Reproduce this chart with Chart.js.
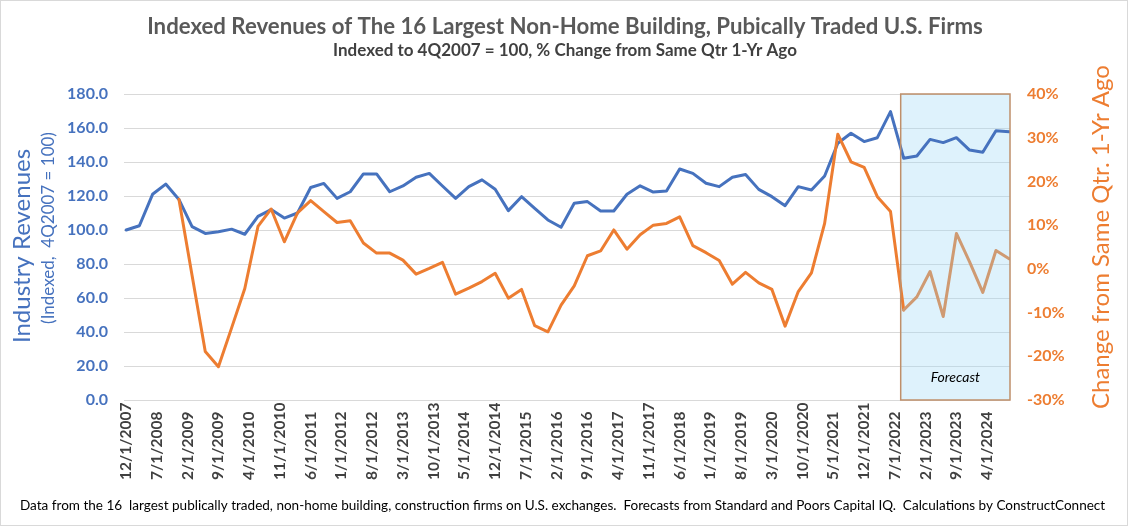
<!DOCTYPE html>
<html><head><meta charset="utf-8">
<script src="https://cdn.jsdelivr.net/npm/chart.js@4.4.1/dist/chart.umd.min.js"></script>
<style>html,body{margin:0;padding:0;background:#fff;overflow:hidden;} canvas{display:block;}</style>
</head><body>
<canvas id="c" width="1128" height="526"></canvas>
<script>
// ---- DATA ----
const quarters = [
 '12/1/2007',
 '3/1/2008','6/1/2008','9/1/2008','12/1/2008',
 '3/1/2009','6/1/2009','9/1/2009','12/1/2009',
 '3/1/2010','6/1/2010','9/1/2010','12/1/2010',
 '3/1/2011','6/1/2011','9/1/2011','12/1/2011',
 '3/1/2012','6/1/2012','9/1/2012','12/1/2012',
 '3/1/2013','6/1/2013','9/1/2013','12/1/2013',
 '3/1/2014','6/1/2014','9/1/2014','12/1/2014',
 '3/1/2015','6/1/2015','9/1/2015','12/1/2015',
 '3/1/2016','6/1/2016','9/1/2016','12/1/2016',
 '3/1/2017','6/1/2017','9/1/2017','12/1/2017',
 '3/1/2018','6/1/2018','9/1/2018','12/1/2018',
 '3/1/2019','6/1/2019','9/1/2019','12/1/2019',
 '3/1/2020','6/1/2020','9/1/2020','12/1/2020',
 '3/1/2021','6/1/2021','9/1/2021','12/1/2021',
 '3/1/2022','6/1/2022','9/1/2022','12/1/2022',
 '3/1/2023','6/1/2023','9/1/2023','12/1/2023',
 '3/1/2024','6/1/2024','9/1/2024'
];
const revenueIndex = [
 100, 102.5, 121, 127, 118, 102, 98, 99, 100.5, 97.5, 108, 112, 107, 110,
 125, 127.4, 118.6, 122.5, 133, 133, 122.5, 125.9, 131, 133.3, 125.9, 118.6, 125.5, 129.5,
 124, 111.4, 119.6, 112.7, 105.9, 101.6, 115.7, 116.7, 111.2, 111.2, 121, 126, 122.3,
 122.9, 135.9, 133.3, 127.5, 125.5, 131, 132.7, 123.9, 119.6, 114.3, 125.5, 123.5, 131.8,
 151, 156.9, 152, 154.3, 169.6, 142.2, 143.5, 153.3, 151.4, 154.3, 147, 145.7, 158.4, 157.8
];
const pctChange = [
 null, null, null, null,
 15.9, -1.5, -18.9, -22.4, -13.5, -4.5, 9.7, 13.7, 6.2, 12.8,
 15.6, 13.1, 10.6, 11, 5.9, 3.6, 3.6, 2, -1.2, 0.1, 1.5, -5.8, -4.4, -2.9,
 -1, -6.7, -4.7, -13, -14.4, -8.3, -3.9, 3, 4.1, 8.9, 4.5, 7.8, 10,
 10.4, 11.9, 5.3, 3.7, 1.9, -3.5, -0.8, -3.2, -4.7, -13.1, -5.2, -0.9, 10.4,
 30.8, 24.5, 23.2, 16.5, 13.1, -9.4, -6.4, -0.6, -10.9, 8.1, 1.6, -5.4, 4.2, 2.3
];
const xTickLabels = [
 '12/1/2007','7/1/2008','2/1/2009','9/1/2009','4/1/2010','11/1/2010','6/1/2011','1/1/2012',
 '8/1/2012','3/1/2013','10/1/2013','5/1/2014','12/1/2014','7/1/2015','2/1/2016','9/1/2016',
 '4/1/2017','11/1/2017','6/1/2018','1/1/2019','8/1/2019','3/1/2020','10/1/2020','5/1/2021',
 '12/1/2021','7/1/2022','2/1/2023','9/1/2023','4/1/2024'
];
const forecastStart = '9/1/2022';
const forecastLabel = 'Forecast';
const titleText = 'Indexed Revenues of The 16 Largest Non-Home Building, Pubically Traded U.S. Firms';
const subtitleText = 'Indexed to 4Q2007 = 100, % Change from Same Qtr 1-Yr Ago';
const leftTitle = 'Industry Revenues';
const leftSubTitle = '(Indexed,  4Q2007 = 100)';
const rightTitle = 'Change from Same Qtr. 1-Yr Ago';
const footerText = 'Data from the 16  largest publically traded, non-home building, construction firms on U.S. exchanges.  Forecasts from Standard and Poors Capital IQ.  Calculations by ConstructConnect';

// months since 12/2007
function monthIndex(s){
  const p = s.split('/');
  return (parseInt(p[2]) - 2007) * 12 + (parseInt(p[0]) - 12);
}

const BLUE = '#4672BE', ORANGE = '#ED7D31', ORANGE_FC = '#CF9A72';
const FONT = 'Lato, "Open Sans", sans-serif';
const fcMonth = monthIndex(forecastStart);

function fitFont(ctx, text, weight, size, targetW){
  ctx.font = weight + ' ' + size + 'px ' + FONT;
  const w = ctx.measureText(text).width;
  return weight + ' ' + (size * targetW / w) + 'px ' + FONT;
}

function boxRect(chart){
  const {chartArea: a, scales: {x}} = chart;
  const fx = x.getPixelForValue(fcMonth) - 3;
  return [fx, a.top, a.right - fx, a.bottom - a.top];
}

const overlay = {
  id: 'overlay',
  beforeDatasetsDraw(chart){
    const ctx = chart.ctx;
    const r = boxRect(chart);
    ctx.save();
    ctx.fillStyle = 'rgba(161,218,246,0.35)';
    ctx.fillRect(r[0], r[1], r[2], r[3]);
    ctx.restore();
  },
  afterDatasetsDraw(chart){
    const {ctx, chartArea: a} = chart;
    const r = boxRect(chart);
    ctx.save();
    ctx.strokeStyle = '#BF8F6A';
    ctx.lineWidth = 1.5;
    ctx.strokeRect(r[0], r[1], r[2], r[3]);
    ctx.fillStyle = '#000';
    ctx.font = 'italic 14px ' + FONT;
    ctx.textAlign = 'center';
    ctx.textBaseline = 'middle';
    ctx.fillText(forecastLabel, r[0] + r[2] / 2, a.bottom - 23);
    ctx.restore();
  },
  afterDraw(chart){
    const {ctx, scales: {x}} = chart;
    const W = chart.width, H = chart.height;
    ctx.save();
    ctx.textAlign = 'center';
    ctx.textBaseline = 'middle';
    ctx.fillStyle = '#595959';
    ctx.font = fitFont(ctx, titleText, 'bold', 20, 836);
    ctx.fillText(titleText, 565, 27);
    ctx.fillStyle = '#404040';
    ctx.font = fitFont(ctx, subtitleText, 'bold', 15, 464);
    ctx.fillText(subtitleText, 565, 51);
    // x labels (rotated, bottom aligned)
    ctx.font = 'bold 15.5px ' + FONT;
    ctx.fillStyle = '#404040';
    ctx.textAlign = 'left';
    xTickLabels.forEach(l => {
      const px = x.getPixelForValue(monthIndex(l));
      ctx.save();
      ctx.translate(px, 480);
      ctx.rotate(-Math.PI / 2);
      ctx.fillText(l, 0, 0);
      ctx.restore();
    });
    // left axis titles
    ctx.textAlign = 'center';
    ctx.fillStyle = BLUE;
    ctx.save();
    ctx.translate(22, 246); ctx.rotate(-Math.PI / 2);
    ctx.font = '24px ' + FONT;
    ctx.fillText(leftTitle, 0, 0);
    ctx.restore();
    ctx.save();
    ctx.translate(49, 228); ctx.rotate(-Math.PI / 2);
    ctx.font = '17px ' + FONT;
    ctx.fillText(leftSubTitle, 0, 0);
    ctx.restore();
    // right axis title
    ctx.fillStyle = ORANGE;
    ctx.save();
    ctx.translate(1101, 237); ctx.rotate(-Math.PI / 2);
    ctx.font = '24px ' + FONT;
    ctx.fillText(rightTitle, 0, 0);
    ctx.restore();
    // footer
    ctx.fillStyle = '#000';
    ctx.textAlign = 'left';
    ctx.font = fitFont(ctx, footerText, 'normal', 12.5, 1086);
    ctx.fillText(footerText, 20, 506);
    // outer border
    ctx.strokeStyle = '#D9D9D9';
    ctx.lineWidth = 1;
    ctx.strokeRect(0.5, 0.5, W - 1, H - 1);
    ctx.restore();
  }
};

const xs = quarters.map(monthIndex);
new Chart(document.getElementById('c'), {
  type: 'line',
  data: {
    datasets: [
      { label: 'Industry Revenues', data: xs.map((m, i) => ({x: m, y: revenueIndex[i]})),
        borderColor: BLUE, yAxisID: 'y', order: 1 },
      { label: '% Change', data: xs.map((m, i) => ({x: m, y: pctChange[i]})),
        borderColor: ORANGE, yAxisID: 'y1', order: 0,
        segment: { borderColor: c => c.p0.parsed.x >= fcMonth ? ORANGE_FC : undefined } }
    ]
  },
  options: {
    responsive: false,
    animation: false,
    layout: { padding: { top: 94, left: 0, right: 0, bottom: 0 } },
    plugins: { legend: { display: false }, tooltip: { enabled: false } },
    elements: { point: { radius: 0 }, line: { tension: 0, borderWidth: 3, borderJoinStyle: 'round', borderCapStyle: 'round' } },
    scales: {
      x: { type: 'linear', min: -0.5, max: 201.2,
           grid: { display: false }, border: { display: false },
           ticks: { display: false },
           afterFit(s){ s.height = 126; } },
      y: { position: 'left', min: 0, max: 180,
           ticks: { stepSize: 20, callback: v => v.toFixed(1), color: BLUE,
                    font: { family: FONT, size: 16, weight: 'bold' }, padding: 16 },
           grid: { color: '#D9D9D9', drawTicks: false }, border: { display: false },
           afterFit(s){ s.width = 124; } },
      y1: { position: 'right', min: -30, max: 40,
           ticks: { stepSize: 10, callback: v => v + '%', color: ORANGE,
                    font: { family: FONT, size: 16, weight: 'bold' }, padding: 17 },
           grid: { display: false, drawTicks: false }, border: { display: false },
           afterFit(s){ s.width = 118; } }
    }
  },
  plugins: [overlay]
});
</script>
</body></html>
